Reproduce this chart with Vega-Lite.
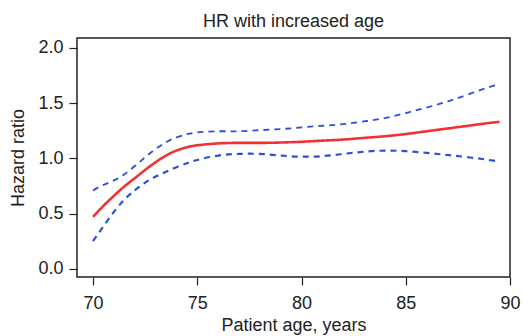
{
  "$schema": "https://vega.github.io/schema/vega-lite/v6.json",
  "width": 433,
  "height": 239,
  "autosize": {"type": "none"},
  "padding": {"left": 77, "top": 38, "right": 22, "bottom": 59},
  "background": "white",
  "title": {"text": "HR with increased age", "fontSize": 18, "font": "Liberation Sans", "fontWeight": "normal", "color": "#222", "offset": 7},
  "config": {
    "view": {"stroke": "#222", "strokeWidth": 1.5},
    "axis": {"labelFont": "Liberation Sans", "titleFont": "Liberation Sans", "labelColor": "#222", "titleColor": "#222", "labelFontSize": 18, "titleFontSize": 18, "titleFontWeight": "normal", "domain": false, "grid": false, "tickColor": "#222", "tickSize": 8, "tickWidth": 1.2, "labelFlush": false, "labelOverlap": false, "labelBound": false}
  },
  "data": {"values": [
    {"age": 70, "series": "hr", "value": 0.47},
    {"age": 70.5, "series": "hr", "value": 0.57},
    {"age": 71, "series": "hr", "value": 0.66},
    {"age": 71.5, "series": "hr", "value": 0.745},
    {"age": 72, "series": "hr", "value": 0.82},
    {"age": 72.5, "series": "hr", "value": 0.895},
    {"age": 73, "series": "hr", "value": 0.965},
    {"age": 73.5, "series": "hr", "value": 1.025},
    {"age": 74, "series": "hr", "value": 1.07},
    {"age": 74.5, "series": "hr", "value": 1.10},
    {"age": 75, "series": "hr", "value": 1.118},
    {"age": 76, "series": "hr", "value": 1.135},
    {"age": 77, "series": "hr", "value": 1.14},
    {"age": 78, "series": "hr", "value": 1.14},
    {"age": 79, "series": "hr", "value": 1.143},
    {"age": 80, "series": "hr", "value": 1.15},
    {"age": 81, "series": "hr", "value": 1.16},
    {"age": 82, "series": "hr", "value": 1.17},
    {"age": 83, "series": "hr", "value": 1.185},
    {"age": 84, "series": "hr", "value": 1.20},
    {"age": 85, "series": "hr", "value": 1.22},
    {"age": 86, "series": "hr", "value": 1.245},
    {"age": 87, "series": "hr", "value": 1.27},
    {"age": 88, "series": "hr", "value": 1.295},
    {"age": 89, "series": "hr", "value": 1.32},
    {"age": 89.5, "series": "hr", "value": 1.33},
    {"age": 70, "series": "upper", "value": 0.71},
    {"age": 70.5, "series": "upper", "value": 0.76},
    {"age": 71, "series": "upper", "value": 0.80},
    {"age": 71.5, "series": "upper", "value": 0.855},
    {"age": 72, "series": "upper", "value": 0.93},
    {"age": 72.5, "series": "upper", "value": 1.01},
    {"age": 73, "series": "upper", "value": 1.085},
    {"age": 73.5, "series": "upper", "value": 1.145},
    {"age": 74, "series": "upper", "value": 1.19},
    {"age": 74.5, "series": "upper", "value": 1.218},
    {"age": 75, "series": "upper", "value": 1.235},
    {"age": 76, "series": "upper", "value": 1.245},
    {"age": 77, "series": "upper", "value": 1.245},
    {"age": 78, "series": "upper", "value": 1.255},
    {"age": 79, "series": "upper", "value": 1.265},
    {"age": 80, "series": "upper", "value": 1.28},
    {"age": 81, "series": "upper", "value": 1.295},
    {"age": 82, "series": "upper", "value": 1.31},
    {"age": 83, "series": "upper", "value": 1.335},
    {"age": 84, "series": "upper", "value": 1.365},
    {"age": 85, "series": "upper", "value": 1.41},
    {"age": 86, "series": "upper", "value": 1.46},
    {"age": 87, "series": "upper", "value": 1.515},
    {"age": 88, "series": "upper", "value": 1.58},
    {"age": 89, "series": "upper", "value": 1.645},
    {"age": 89.5, "series": "upper", "value": 1.67},
    {"age": 70, "series": "lower", "value": 0.25},
    {"age": 70.5, "series": "lower", "value": 0.385},
    {"age": 71, "series": "lower", "value": 0.515},
    {"age": 71.5, "series": "lower", "value": 0.625},
    {"age": 72, "series": "lower", "value": 0.71},
    {"age": 72.5, "series": "lower", "value": 0.78},
    {"age": 73, "series": "lower", "value": 0.835},
    {"age": 73.5, "series": "lower", "value": 0.878},
    {"age": 74, "series": "lower", "value": 0.92},
    {"age": 74.5, "series": "lower", "value": 0.955},
    {"age": 75, "series": "lower", "value": 0.985},
    {"age": 76, "series": "lower", "value": 1.025},
    {"age": 77, "series": "lower", "value": 1.04},
    {"age": 78, "series": "lower", "value": 1.04},
    {"age": 79, "series": "lower", "value": 1.025},
    {"age": 80, "series": "lower", "value": 1.015},
    {"age": 81, "series": "lower", "value": 1.02},
    {"age": 82, "series": "lower", "value": 1.04},
    {"age": 83, "series": "lower", "value": 1.06},
    {"age": 84, "series": "lower", "value": 1.07},
    {"age": 85, "series": "lower", "value": 1.065},
    {"age": 86, "series": "lower", "value": 1.05},
    {"age": 87, "series": "lower", "value": 1.03},
    {"age": 88, "series": "lower", "value": 1.01},
    {"age": 89, "series": "lower", "value": 0.985},
    {"age": 89.5, "series": "lower", "value": 0.97}
  ]},
  "mark": {"type": "line", "interpolate": "natural"},
  "encoding": {
    "x": {"field": "age", "type": "quantitative", "scale": {"domain": [69.23, 90], "nice": false, "zero": false},
      "axis": {"values": [70, 75, 80, 85, 90], "title": "Patient age, years", "labelPadding": 9, "titlePadding": 4}},
    "y": {"field": "value", "type": "quantitative", "scale": {"domain": [-0.075, 2.09], "nice": false, "zero": false},
      "axis": {"values": [0, 0.5, 1, 1.5, 2], "format": ".1f", "title": "Hazard ratio", "labelPadding": 6, "titlePadding": 10}},
    "detail": {"field": "series"},
    "color": {"field": "series", "type": "nominal", "scale": {"domain": ["hr", "lower", "upper"], "range": ["#f03232", "#2f4fd6", "#2f4fd6"]}, "legend": null},
    "strokeDash": {"field": "series", "type": "nominal", "scale": {"domain": ["hr", "lower", "upper"], "range": [[1, 0], [6, 5], [6, 5]]}, "legend": null},
    "strokeWidth": {"field": "series", "type": "nominal", "scale": {"domain": ["hr", "lower", "upper"], "range": [2.6, 1.8, 1.8]}, "legend": null}
  }
}
